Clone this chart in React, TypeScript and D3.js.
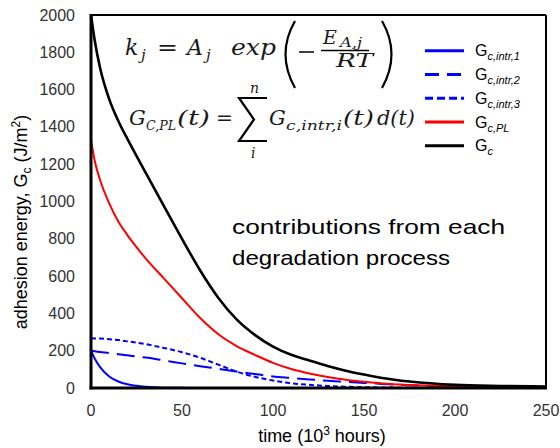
import React from "react";
import * as d3 from "d3";

const times = [0, 2, 5, 10, 15, 20, 25, 30, 40, 50, 60, 70, 80, 90, 100, 110, 120, 130, 140, 150, 160, 175, 200, 225, 250];
const gc = [2000, 1866, 1716, 1549, 1432, 1336, 1245, 1155, 976, 800, 630, 483, 368, 285, 222, 178, 148, 118, 93, 72, 54, 35, 17, 11, 8];
const gcPL = [1330, 1220, 1115, 990, 893, 820, 755, 695, 588, 481, 375, 288, 225, 178, 135, 102, 78, 59, 44, 33, 24, 16, 9, 5, 3];
const gcIntr1 = [200, 158, 112, 62, 35, 20, 12, 7, 2, 1, 0, 0, 0, 0, 0, 0, 0, 0, 0, 0, 0, 0, 0, 0, 0];
const gcIntr2 = [200, 197, 193, 188, 181, 175, 169, 163, 148, 132, 117, 103, 88, 75, 62, 54, 46, 39, 33, 27, 22, 15, 8, 4, 2];
const gcIntr3 = [267, 266, 265, 262, 257, 250, 243, 235, 215, 192, 162, 125, 88, 60, 40, 25, 17, 11, 7, 4, 3, 1, 0, 0, 0];

const xTicks = [0, 50, 100, 150, 200, 250];
const yTicks = [0, 200, 400, 600, 800, 1000, 1200, 1400, 1600, 1800, 2000];

const seriesNames = ["Gc,intr,1", "Gc,intr,2", "Gc,intr,3", "Gc,PL", "Gc"];

const L = 91, R = 546, T = 15, B = 388;

export default function App() {
  const x = d3.scaleLinear().domain([0, 250]).range([L, R]);
  const y = d3.scaleLinear().domain([0, 2000]).range([B, T]);
  const line = (vals: number[]) =>
    d3.line<number>().x((_, i) => x(times[i])).y((v) => y(v)).curve(d3.curveMonotoneX)(vals) as string;

  const series = [
    { name: seriesNames[0], vals: gcIntr1, color: "#0000ff", w: 2, dash: "", ldash: "" },
    { name: seriesNames[1], vals: gcIntr2, color: "#0000ff", w: 2, dash: "18,8", ldash: "14,8" },
    { name: seriesNames[2], vals: gcIntr3, color: "#0000ff", w: 2, dash: "5,3", ldash: "8,4" },
    { name: seriesNames[3], vals: gcPL, color: "#ff0000", w: 2, dash: "", ldash: "" },
    { name: seriesNames[4], vals: gc, color: "#000000", w: 2.6, dash: "", ldash: "" },
  ];
  const legendY = [50.7, 74.5, 98.3, 122, 145.8];
  const subs = ["c,intr,1", "c,intr,2", "c,intr,3", "c,PL", "c"];

  const sans = "Liberation Sans, Arial, sans-serif";
  const serif = "DejaVu Serif, serif";
  const lab = "#333";

  return (
    <svg width={560} height={448} style={{ position: "absolute", left: 0, top: 0, background: "#fff" }}>
      <defs>
        <clipPath id="plot">
          <rect x={L} y={T - 2} width={R - L} height={B - T + 2} />
        </clipPath>
      </defs>
      <rect x={0} y={0} width={560} height={448} fill="#fff" />
      {yTicks.map((t) => (
        <text key={t} x={75} y={y(t) + 5.5} textAnchor="end" fontFamily={sans} fontSize={16} fill={lab}>
          {t}
        </text>
      ))}
      {xTicks.map((t) => (
        <text key={t} x={x(t)} y={416} textAnchor="middle" fontFamily={sans} fontSize={16} fill={lab}>
          {t}
        </text>
      ))}
      <text x={322} y={442} textAnchor="middle" fontFamily={sans} fontSize={18} fill="#000">
        time (10<tspan dy={-7} fontSize={12}>3</tspan><tspan dy={7}> hours)</tspan>
      </text>
      <text transform="translate(27,222) rotate(-90)" textAnchor="middle" fontFamily={sans} fontSize={18} fill="#000">
        adhesion energy, G<tspan dy={4} fontSize={12}>c</tspan><tspan dy={-4}> (J/m</tspan><tspan dy={-7} fontSize={12}>2</tspan><tspan dy={7}>)</tspan>
      </text>

      <g clipPath="url(#plot)">
        {series.map((s) => (
          <path key={s.name} d={line(s.vals)} fill="none" stroke={s.color} strokeWidth={s.w} strokeDasharray={s.dash || undefined} />
        ))}
      </g>

      <line x1={L} y1={T} x2={R} y2={T} stroke="#000" strokeWidth={2} />
      <line x1={R} y1={T} x2={R} y2={B} stroke="#000" strokeWidth={2} />
      <line x1={L} y1={T - 1} x2={L} y2={B + 1.5} stroke="#000" strokeWidth={3} />
      <line x1={L - 1.5} y1={B} x2={R + 1} y2={B} stroke="#000" strokeWidth={3} />

      {series.map((s, i) => (
        <g key={s.name}>
          <line x1={425} x2={464} y1={legendY[i]} y2={legendY[i]} stroke={s.color} strokeWidth={3} strokeDasharray={s.ldash || undefined} />
          <text x={475} y={legendY[i] + 5.5} fontFamily={sans} fontSize={16} fill="#000">
            G<tspan dy={4} fontSize={11} fontStyle="italic">{subs[i]}</tspan>
          </text>
        </g>
      ))}

      <text x={232} y={234} fontFamily={sans} fontSize={21} fill="#000" textLength={273} lengthAdjust="spacingAndGlyphs">
        contributions from each
      </text>
      <text x={232} y={265} fontFamily={sans} fontSize={21} fill="#000" textLength={218} lengthAdjust="spacingAndGlyphs">
        degradation process
      </text>

      {/* equation 1 */}
      <g fontFamily={serif} fill="#1a1a1a" fontStyle="italic">
        <text x={125} y={55} fontSize={22}>k</text>
        <text x={141} y={60} fontSize={15}>j</text>
        <text x={157} y={55} fontSize={22} fontStyle="normal" textLength={21} lengthAdjust="spacingAndGlyphs">=</text>
        <text x={187} y={55} fontSize={22}>A</text>
        <text x={206} y={60} fontSize={15}>j</text>
        <text x={231} y={55} fontSize={22} textLength={45} lengthAdjust="spacingAndGlyphs">exp</text>
        <path d="M295,21 Q276,54 295,88" fill="none" stroke="#000" strokeWidth={2.2} />
        <path d="M382,21 Q401,54 382,88" fill="none" stroke="#000" strokeWidth={2.2} />
        <line x1={299} x2={314} y1={52} y2={52} stroke="#000" strokeWidth={1.5} />
        <text x={323} y={44} fontSize={19}>E</text>
        <text x={340} y={46.5} fontSize={12} textLength={22} lengthAdjust="spacingAndGlyphs">A,j</text>
        <line x1={321} x2={369} y1={50.5} y2={50.5} stroke="#000" strokeWidth={1.3} />
        <text x={336} y={67} fontSize={19} textLength={37} lengthAdjust="spacingAndGlyphs">RT</text>
      </g>

      {/* equation 2 */}
      <g fontFamily={serif} fill="#1a1a1a" fontStyle="italic">
        <text x={129} y={125} fontSize={21}>G</text>
        <text x={146} y={130} fontSize={13} textLength={30} lengthAdjust="spacingAndGlyphs">C,PL</text>
        <text x={177} y={125} fontSize={21} textLength={33} lengthAdjust="spacingAndGlyphs">(t)</text>
        <text x={216} y={125} fontSize={21} fontStyle="normal" textLength={17} lengthAdjust="spacingAndGlyphs">=</text>
        <path d="M267,98 L239,98 L254,119.5 L239,141 L267,141" fill="none" stroke="#000" strokeWidth={2.2} strokeLinejoin="miter" />
        <text x={250} y={93} fontSize={14}>n</text>
        <text x={251} y={158} fontSize={14}>i</text>
        <text x={269} y={125} fontSize={21}>G</text>
        <text x={286} y={130} fontSize={13} textLength={56} lengthAdjust="spacingAndGlyphs">c,intr,i</text>
        <text x={343} y={125} fontSize={21} textLength={31} lengthAdjust="spacingAndGlyphs">(t)</text>
        <text x={377} y={125} fontSize={21} textLength={38} lengthAdjust="spacingAndGlyphs">d(t)</text>
      </g>
    </svg>
  );
}
